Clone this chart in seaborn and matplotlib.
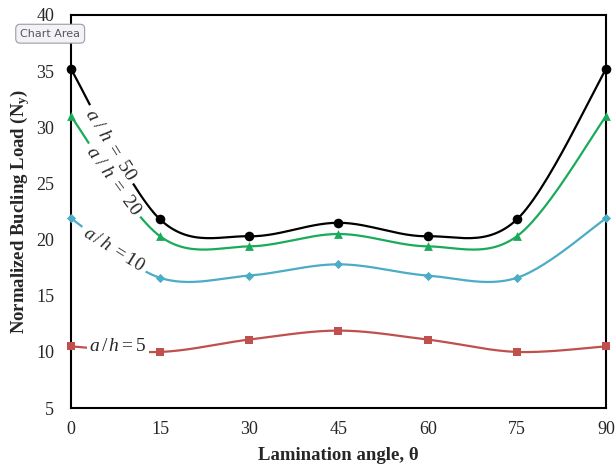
import numpy as np
import pandas as pd
import matplotlib
matplotlib.use("Agg")
import matplotlib.pyplot as plt
import seaborn as sns

# Data
angles = [0, 15, 30, 45, 60, 75, 90]
load_ah50 = [35.2, 21.8, 20.3, 21.5, 20.3, 21.8, 35.2]
load_ah20 = [31.0, 20.3, 19.4, 20.5, 19.4, 20.3, 31.0]
load_ah10 = [21.9, 16.6, 16.8, 17.8, 16.8, 16.6, 21.9]
load_ah5 = [10.5, 10.0, 11.1, 11.9, 11.1, 10.0, 10.5]
series_names = ["a/h=50", "a/h=20", "a/h=10", "a/h=5"]
x_ticks = [0, 15, 30, 45, 60, 75, 90]
y_ticks = [5, 10, 15, 20, 25, 30, 35, 40]


def smooth_curve(x, y, n=30):
    # Excel-like smoothed line: cubic Bezier segments with Catmull-Rom handles
    pts = np.column_stack([x, y]).astype(float)
    ext = np.vstack([pts[0], pts, pts[-1]])
    out = []
    t = np.linspace(0, 1, n)[:, None]
    for i in range(len(pts) - 1):
        p0, p3 = ext[i + 1], ext[i + 2]
        p1 = p0 + (ext[i + 2] - ext[i]) / 6
        p2 = p3 - (ext[i + 3] - ext[i + 1]) / 6
        seg = ((1 - t) ** 3) * p0 + 3 * ((1 - t) ** 2) * t * p1 + 3 * (1 - t) * t ** 2 * p2 + t ** 3 * p3
        out.append(seg if i == 0 else seg[1:])
    out = np.vstack(out)
    return out[:, 0], out[:, 1]


sns.set_style("white")
plt.rcParams["font.family"] = ["Liberation Serif", "DejaVu Serif"]
plt.rcParams["mathtext.fontset"] = "custom"
plt.rcParams["mathtext.rm"] = "Liberation Serif"
plt.rcParams["mathtext.it"] = "Liberation Serif:italic"
plt.rcParams["mathtext.bf"] = "Liberation Serif:bold"

fig, ax = plt.subplots(figsize=(6.16, 4.68), dpi=100)
fig.subplots_adjust(left=0.115, right=0.984, top=0.968, bottom=0.128)

series_list = [load_ah50, load_ah20, load_ah10, load_ah5]
colour_list = ["#000000", "#1aab5a", "#4bacc6", "#c0504d"]
marker_list = ["o", "^", "D", "s"]
marker_sizes = [48, 40, 22, 40]

for name, values, colour, marker, msize in zip(series_names, series_list, colour_list, marker_list, marker_sizes):
    xs, ys = smooth_curve(angles, values)
    curve = pd.DataFrame({"angle": xs, "load": ys})
    sns.lineplot(data=curve, x="angle", y="load", ax=ax, color=colour, linewidth=1.6, sort=False, zorder=2)
    pts = pd.DataFrame({"angle": angles, "load": values})
    sns.scatterplot(data=pts, x="angle", y="load", ax=ax, color=colour, marker=marker, s=msize,
                    edgecolor=colour, linewidth=0, zorder=3, clip_on=False)

# Curve labels (white boxes hide the line underneath)
label_box = dict(facecolor="white", edgecolor="none", pad=3.0)
ax.text(6.6, 28.4, r"$a\ /\ h\ =\ 50$", rotation=-58, fontsize=14, ha="center", va="center", bbox=label_box, zorder=4)
ax.text(7.1, 25.2, r"$a\ /\ h\ =\ 20$", rotation=-54, fontsize=14, ha="center", va="center", bbox=label_box, zorder=4)
ax.text(7.2, 19.1, r"$a\,/\,h\ =10$", rotation=-32, fontsize=13.5, ha="center", va="center", bbox=label_box, zorder=4)
ax.text(7.9, 10.45, r"$a\,/\,h = 5$", rotation=0, fontsize=14, ha="center", va="center",
        bbox=dict(facecolor="white", edgecolor="none", pad=1.5), zorder=4)

# Axes formatting
ax.set_xlim(0, 90)
ax.set_ylim(5, 40)
ax.set_xticks(x_ticks)
ax.set_yticks(y_ticks)
ax.tick_params(axis="both", direction="in", length=6, width=1.2, labelsize=13, color="black")
ax.tick_params(axis="x", pad=9)
ax.tick_params(axis="y", pad=12)
for spine in ax.spines.values():
    spine.set_color("black")
    spine.set_linewidth(1.5)
ax.set_xlabel(r"Lamination angle, θ", fontsize=13.5, fontweight="bold", labelpad=7)
ax.set_ylabel(r"Normalized Bucling Load (N$_\mathbf{y}$)", fontsize=13.5, fontweight="bold", labelpad=3)

# Excel tooltip left in the screenshot
fig.text(0.0815, 0.928, "Chart Area", fontsize=8, family="DejaVu Sans", color="#555566",
         ha="center", va="center",
         bbox=dict(boxstyle="round,pad=0.4", facecolor="#f3f3f6", edgecolor="#9a9aaa", linewidth=0.8))

plt.savefig("out.png", dpi=100)
